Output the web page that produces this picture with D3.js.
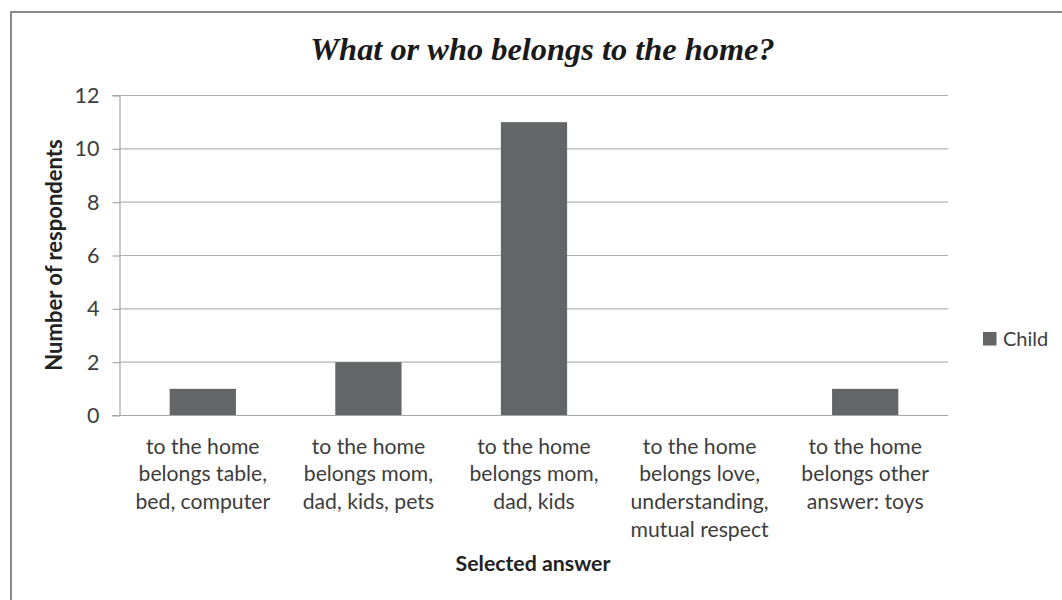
<!DOCTYPE html>
<html><head><meta charset="utf-8">
<script src="https://cdn.jsdelivr.net/npm/d3@7"></script>
<style>body{margin:0;background:#fff}svg{display:block}</style>
</head><body>
<svg id="c" width="1062" height="600"></svg>
<script>
const categories = [
  ["to the home","belongs table,","bed, computer"],
  ["to the home","belongs mom,","dad, kids, pets"],
  ["to the home","belongs mom,","dad, kids"],
  ["to the home","belongs love,","understanding,","mutual respect"],
  ["to the home","belongs other","answer: toys"]
];
const childValues = [1, 2, 11, 0, 1];
const yTicks = [0, 2, 4, 6, 8, 10, 12];
const seriesName = "Child";
const title = "What or who belongs to the home?";
const yTitle = "Number of respondents";
const xTitle = "Selected answer";

(function(){
const svg = d3.select("#c");
const font = "Lato, 'Open Sans', sans-serif";
const textCol = "#3d3d3d";
const pL = 120, pR = 948, pT = 95.5, pB = 415.5;

svg.append("rect").attr("x",11).attr("y",12).attr("width",1100).attr("height",650)
  .attr("fill","none").attr("stroke","#8a8a8a").attr("stroke-width",2);

const x = d3.scaleBand().domain(d3.range(categories.length)).range([pL,pR]).paddingInner(0.6).paddingOuter(0.3);
const y = d3.scaleLinear().domain([0,12]).range([pB,pT]);

svg.append("g").selectAll("line").data(yTicks.filter(d=>d>0)).join("line")
  .attr("x1",pL).attr("x2",pR).attr("y1",d=>y(d)).attr("y2",d=>y(d))
  .attr("stroke","#b3b3b3").attr("stroke-width",1.2);

const ya = svg.append("g").attr("transform",`translate(${pL},0)`)
  .call(d3.axisLeft(y).tickValues(yTicks).tickSize(7.5).tickPadding(13).tickFormat(d3.format("d")));
ya.select(".domain").attr("stroke","#a6a6a6").attr("stroke-width",1.2).attr("d",`M-7.5,${pT}H0V${pB}`);
ya.selectAll(".tick line").attr("stroke","#a6a6a6").attr("stroke-width",1.2);
ya.selectAll(".tick text").attr("font-family",font).attr("font-size",21.5).attr("fill",textCol);

svg.append("g").selectAll("rect").data(childValues).join("rect")
  .attr("x",(d,i)=>x(i)).attr("width",x.bandwidth())
  .attr("y",d=>y(d)).attr("height",d=>y(0)-y(d)).attr("fill","#646567");

svg.append("line").attr("x1",pL-8).attr("x2",pR).attr("y1",pB).attr("y2",pB)
  .attr("stroke","#a6a6a6").attr("stroke-width",1.2);

const xl = svg.append("g").selectAll("text").data(categories).join("text")
  .attr("x",(d,i)=>x(i)+x.bandwidth()/2).attr("y",453.5)
  .attr("text-anchor","middle").attr("font-family",font).attr("font-size",21.2).attr("fill",textCol);
xl.selectAll("tspan").data(d=>d).join("tspan")
  .attr("x",function(){return d3.select(this.parentNode).attr("x");})
  .attr("dy",(d,i)=>i===0?0:27.7).text(d=>d);

svg.append("text").attr("x",542.5).attr("y",60).attr("text-anchor","middle")
  .attr("font-family","'Liberation Serif', 'Times New Roman', serif").attr("font-style","italic").attr("font-weight","bold")
  .attr("font-size",32.4).attr("fill","#1a1a1a").text(title);

svg.append("text").attr("transform","translate(61.5,255) rotate(-90)").attr("text-anchor","middle")
  .attr("font-family",font).attr("font-weight","bold").attr("font-size",22).attr("fill","#222").text(yTitle);
svg.append("text").attr("x",533).attr("y",571).attr("text-anchor","middle")
  .attr("font-family",font).attr("font-weight","bold").attr("font-size",21.3).attr("fill","#222").text(xTitle);

svg.append("rect").attr("x",983).attr("y",332).attr("width",13.5).attr("height",13.5).attr("fill","#646567");
svg.append("text").attr("x",1003).attr("y",345.5).attr("font-family",font).attr("font-size",20).attr("fill",textCol).text(seriesName);
})();
</script>
</body></html>
